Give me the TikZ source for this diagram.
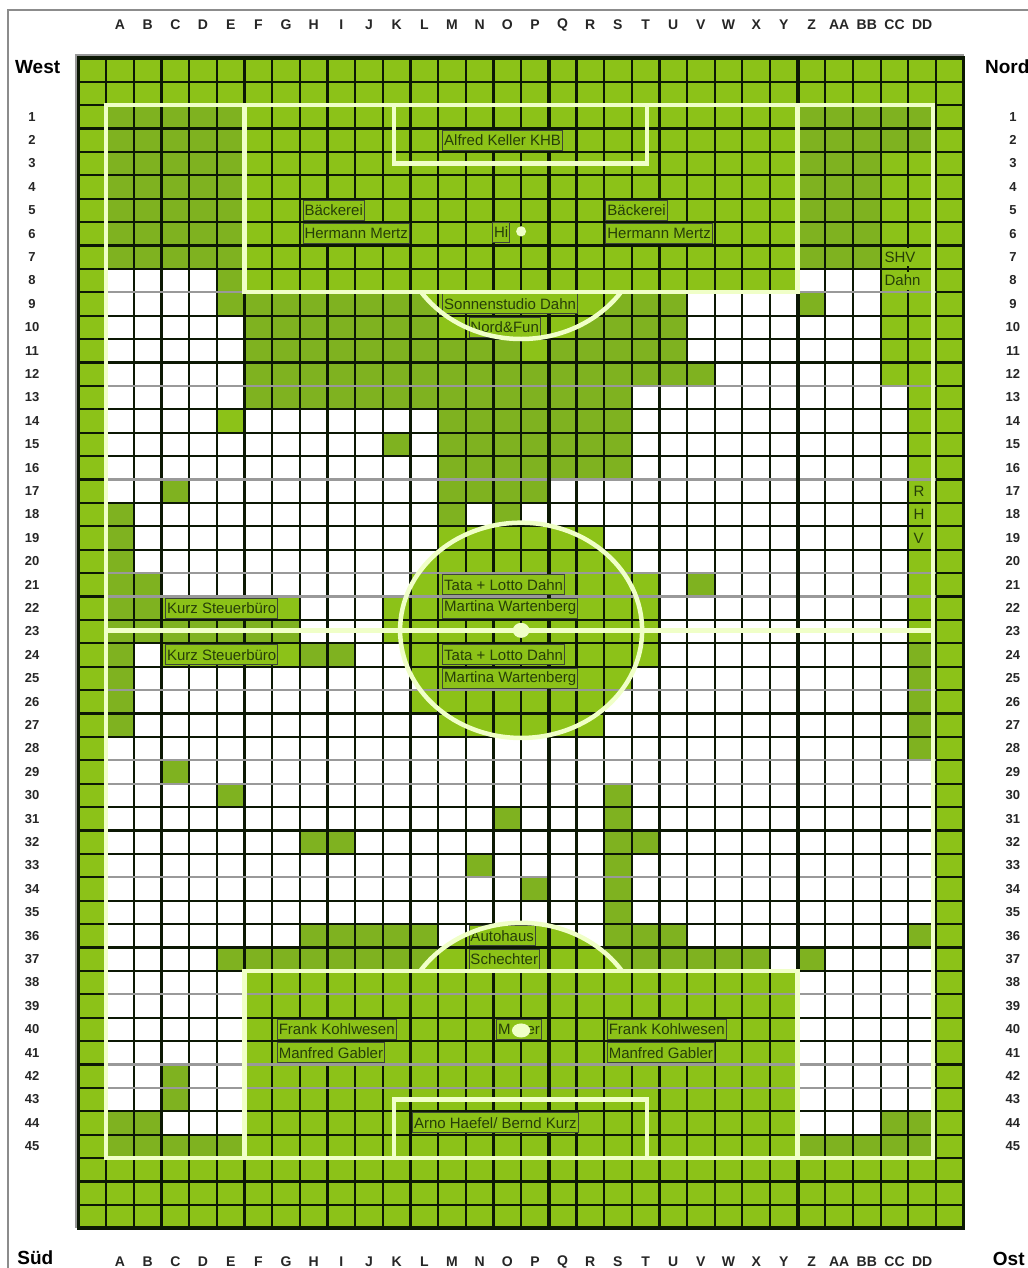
\documentclass[tikz,border=0pt]{standalone}
\usepackage{fontspec}
\setmainfont{Liberation Sans}
\usepackage{xcolor}
\usepackage{tikz}

\definecolor{pitchgreen}{RGB}{140,194,24}
\definecolor{standgreen}{RGB}{127,178,32}
\definecolor{chalk}{RGB}{240,255,200}
\definecolor{sponsortext}{RGB}{38,62,8}
\definecolor{gridblack}{RGB}{12,24,4}

\begin{document}
\begin{tikzpicture}[
  x=27.66pt, y=-23.4pt,
  gridline/.style={draw=gridblack, line width=2.2pt},
  gridthick/.style={draw=gridblack, line width=3.6pt},
  gridgray/.style={draw=black!40, line width=2.2pt},
  chalkline/.style={draw=chalk, line width=4.5pt},
  plaintag/.style={font=\fontsize{15}{17}\selectfont, text=sponsortext, anchor=west,
                   fill=pitchgreen, inner xsep=1pt, inner ysep=0pt, minimum height=18pt},
  sponsor/.style={plaintag, draw=gridblack!80, line width=0.9pt,
                  inner xsep=1.5pt, minimum height=20pt},
  collabel/.style={font=\fontsize{14}{16}\selectfont\bfseries, text=black!85, inner sep=0pt},
  rowlabel/.style={font=\fontsize{13}{15}\selectfont\bfseries, text=black!85, inner sep=0pt},
  sidelabel/.style={font=\fontsize{19}{21}\selectfont\bfseries, anchor=west, inner sep=0pt}
]
\useasboundingbox (-3.8395,-4.4872) rectangle (33.326,49.701);
\fill[white] (-3.8395,-4.4872) rectangle (33.326,49.701);

%% Outer frame (left and top edges)
\draw[black!45, line width=2pt] (-3.55,49.701) -- (-3.55,-4.06) -- (33.326,-4.06);

%% Grid background
\fill[pitchgreen] (-1,-2) rectangle (31,48);

%% Free cells (col from/to, row from/to)
\foreach \a/\b/\p/\q in {1/4/8/9, 1/5/10/13, 1/4/14/14, 6/12/14/14, 1/10/15/15, 12/12/15/15,
    1/12/16/16, 1/2/17/17, 4/12/17/17, 2/12/18/20, 14/14/18/18, 3/11/21/21, 8/10/22/23,
    2/2/24/24, 10/11/24/24, 2/12/25/25, 2/11/26/26, 2/12/27/27, 1/29/28/28, 1/30/29/36,
    1/4/37/37, 25/25/37/37, 27/30/37/37, 1/5/38/41, 1/2/42/43, 4/5/42/43, 3/5/44/44,
    26/28/8/8, 22/25/9/9, 27/28/9/9, 22/28/10/11, 23/28/12/12, 20/29/13/16, 17/29/17/17,
    16/29/18/18, 19/29/19/19, 20/29/20/20, 21/21/21/21, 23/29/21/21, 21/29/22/24,
    20/29/25/25, 19/29/26/27, 26/30/38/43, 26/28/44/44}
  \fill[white] (\a-1,\p-1) rectangle (\b,\q);

%% Booked cells
\foreach \a/\b/\p/\q in {1/5/1/7, 26/30/1/2, 26/28/3/7, 5/5/8/9, 6/12/9/13, 13/15/11/13,
    18/21/9/11, 17/17/11/11, 16/22/12/12, 16/19/13/13, 13/19/14/16, 11/11/15/15, 3/3/17/17,
    13/16/17/17, 13/13/18/18, 15/15/18/18, 1/1/18/22, 2/2/21/22, 1/7/23/23, 1/1/24/27,
    8/9/24/24, 30/30/24/28, 26/26/9/9, 22/22/21/21, 3/3/29/29, 5/5/30/30, 15/15/31/31,
    19/19/30/36, 8/9/32/32, 20/20/32/32, 14/14/33/33, 16/16/34/34, 8/12/36/36, 20/21/36/36,
    30/30/36/36, 5/12/37/37, 19/24/37/37, 26/26/37/37, 3/3/42/43, 1/2/44/44, 1/5/45/45,
    29/30/44/44, 26/30/45/45}
  \fill[standgreen] (\a-1,\p-1) rectangle (\b,\q);

%% Centre circle and penalty arcs
\fill[pitchgreen] (15,22.45) ellipse [x radius=4.375, y radius=4.6];
\begin{scope}
  \clip (0,8) rectangle (30,12);
  \fill[pitchgreen] (15,5.4) ellipse [x radius=4.375, y radius=4.6];
\end{scope}
\begin{scope}
  \clip (0,33) rectangle (30,37);
  \fill[pitchgreen] (15,39.55) ellipse [x radius=4.375, y radius=4.6];
\end{scope}

%% Grid lines
\foreach \x in {-1,...,31} \draw[gridline] (\x,-2) -- (\x,48);
\foreach \y in {-2,...,48} \draw[gridline] (-1,\y) -- (31,\y);
\foreach \y in {8,12,16,20,21,25,28,29,33,38,41,42} \draw[gridgray] (0,\y) -- (30,\y);
\draw[gridthick] (16,-2) -- (16,48);
\draw[gridthick] (25,-2) -- (25,48);
\draw[gridthick] (-1,-2) rectangle (31,48);
\draw[black!40, line width=2pt] (-1.09,48) -- (-1.09,-2.13) -- (31,-2.13);

%% Sponsors
\node[sponsor] (keller) at (12.15,1.5) {Alfred Keller KHB};
\node[sponsor] (baeckerW) at (7.1,4.5) {Bäckerei};
\node[sponsor] (mertzW) at (7.1,5.5) {Hermann Mertz};
\node[sponsor] (spotHi) at (13.95,5.45) {Hi};
\node[sponsor] (baeckerE) at (18.05,4.5) {Bäckerei};
\node[sponsor] (mertzE) at (18.05,5.5) {Hermann Mertz};
\node[plaintag] (shv) at (28.1,6.5) {SHV};
\node[plaintag] (shvDahn) at (28.1,7.5) {Dahn};
\node[sponsor] (sonne) at (12.15,8.5) {Sonnenstudio Dahn};
\node[sponsor] (nordfun) at (13.1,9.5) {Nord\&Fun};
\node[plaintag] (sideR) at (29.15,16.5) {R};
\node[plaintag] (sideH) at (29.15,17.5) {H};
\node[plaintag] (sideV) at (29.15,18.5) {V};
\node[sponsor] (lottoN) at (12.15,20.5) {Tata + Lotto Dahn};
\node[sponsor] (martinaN) at (12.15,21.5) {Martina Wartenberg};
\node[sponsor] (kurzN) at (2.13,21.5) {Kurz Steuerbüro};
\node[sponsor] (kurzS) at (2.13,23.5) {Kurz Steuerbüro};
\node[sponsor] (lottoS) at (12.15,23.5) {Tata + Lotto Dahn};
\node[sponsor] (martinaS) at (12.15,24.5) {Martina Wartenberg};
\node[sponsor] (autohaus) at (13.1,35.5) {Autohaus};
\node[sponsor] (schechter) at (13.1,36.5) {Schechter};
\node[sponsor] (frankW) at (6.17,39.5) {Frank Kohlwesen};
\node[sponsor] (gablerW) at (6.17,40.5) {Manfred Gabler};
\node[sponsor] (spotMer) at (14.1,39.5) {M\hspace{16pt}er};
\node[sponsor] (frankE) at (18.1,39.5) {Frank Kohlwesen};
\node[sponsor] (gablerE) at (18.1,40.5) {Manfred Gabler};
\node[sponsor] (arno) at (11.06,43.5) {Arno Haefel/ Bernd Kurz};

%% Pitch markings
\draw[chalkline] (0,0) rectangle (29.9,45);
\draw[chalkline] (0,22.45) -- (29.9,22.45);
\draw[chalkline] (15,22.45) ellipse [x radius=4.375, y radius=4.6];
\draw[chalkline] (5,0) rectangle (25,8);
\draw[chalkline] (5,37) rectangle (25,45);
\draw[chalkline] (10.4,0) rectangle (19.55,2.5);
\draw[chalkline] (10.4,42.5) rectangle (19.55,45);
\begin{scope}
  \clip (0,8.1) rectangle (30,12);
  \draw[chalkline] (15,5.4) ellipse [x radius=4.375, y radius=4.6];
\end{scope}
\begin{scope}
  \clip (0,33) rectangle (30,36.9);
  \draw[chalkline] (15,39.55) ellipse [x radius=4.375, y radius=4.6];
\end{scope}
\fill[chalk] (15,22.45) ellipse [x radius=0.3, y radius=0.32];
\fill[chalk] (15,5.4) ellipse [x radius=0.18, y radius=0.22];
\fill[chalk] (15,39.55) ellipse [x radius=0.33, y radius=0.3];

%% Column and row labels
\foreach \l [count=\i] in {A,B,C,D,E,F,G,H,I,J,K,L,M,N,O,P,Q,R,S,T,U,V,W,X,Y,Z,AA,BB,CC,DD} {
  \node[collabel] (colT-\i) at (\i-0.5,-3.42) {\l};
  \node[collabel] (colB-\i) at (\i-0.5,49.44) {\l};
}
\foreach \r in {1,...,45} {
  \node[rowlabel] (rowL-\r) at (-2.68,\r-0.5) {\r};
  \node[rowlabel] (rowR-\r) at (32.78,\r-0.5) {\r};
}
\node[sidelabel] (west) at (-3.3,-1.62) {West};
\node[sidelabel] (nord) at (31.77,-1.62) {Nord};
\node[sidelabel] (sued) at (-3.22,49.27) {Süd};
\node[sidelabel] (ost) at (32.05,49.3) {Ost};
\end{tikzpicture}
\end{document}
